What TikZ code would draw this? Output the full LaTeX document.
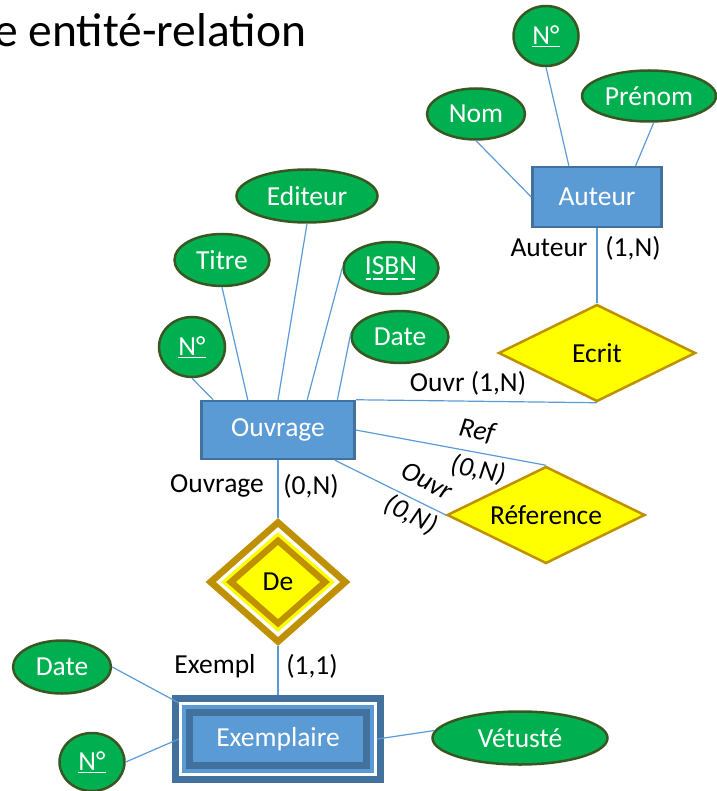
\documentclass[tikz,border=0pt]{standalone}
\usepackage{fontspec}
\setmainfont{Carlito}
\usetikzlibrary{shapes.geometric}
\definecolor{attrgreen}{HTML}{00B050}
\definecolor{attrline}{HTML}{385723}
\definecolor{entblue}{HTML}{5B9BD5}
\definecolor{entline}{HTML}{41719C}
\definecolor{relfill}{HTML}{FFFF00}
\definecolor{relline}{HTML}{BF9000}
\definecolor{linkc}{HTML}{5B9BD5}
\newcommand{\txtsize}{\fontsize{27.5}{30}\selectfont}
\newcommand{\dul}[1]{\setbox0\hbox{#1}\rlap{\hspace{0.12\wd0}\rule[-0.2em]{0.76\wd0}{0.05em}}#1}
\begin{document}
\begin{tikzpicture}[x=1pt,y=-1pt,
    every node/.style={font=\txtsize},
    attr/.style={ellipse,draw=attrline,line width=2.5pt,fill=attrgreen,text=white,inner sep=0pt},
    ent/.style={rectangle,draw=entline,line width=2.5pt,fill=entblue,text=white,inner sep=0pt},
    rel/.style={diamond,draw=relline,line width=2.5pt,fill=relfill,aspect=2,inner sep=0pt},
    layer/.style={diamond,inner sep=0pt},
    box/.style={rectangle,inner sep=0pt},
    card/.style={text=black,inner sep=0pt},
    cardit/.style={card,font=\txtsize\itshape}]
  \useasboundingbox (0,0) rectangle (716,791);
  \node[anchor=base west,font=\fontsize{47.5}{52}\selectfont,inner sep=0pt] (titre) at (-6,47) {e entité-relation};
  \node[attr,minimum width=65pt,minimum height=60pt] (aN) at (546,36) {\underline{N°}};
  \node[attr,minimum width=98pt,minimum height=51pt] (aNom) at (476,114) {Nom};
  \node[attr,minimum width=134pt,minimum height=51pt] (aPrenom) at (649,96) {Prénom};
  \node[ent,minimum width=129pt,minimum height=60pt] (auteur) at (597,197) {Auteur};
  \node[rel,minimum width=197pt,minimum height=97pt] (ecrit) at (597,353) {Ecrit};
  \node[ent,minimum width=153pt,minimum height=58pt] (ouvrage) at (278,430) {Ouvrage};
  \node[attr,minimum width=66pt,minimum height=60pt] (oN) at (192,347) {\underline{N°}};
  \node[attr,minimum width=95pt,minimum height=52pt] (oTitre) at (222,260) {Titre};
  \node[attr,minimum width=141pt,minimum height=53pt] (oEditeur) at (307,196) {Editeur};
  \node[attr,minimum width=95pt,minimum height=52pt] (oIsbn) at (391,268) {\dul{I}\dul{S}\dul{B}\dul{N}};
  \node[attr,minimum width=97pt,minimum height=52pt] (oDate) at (400,337) {Date};
  \node[rel,minimum width=198pt,minimum height=97pt] (reference) at (546,515) {Réference};
  \node[layer,fill=relline,minimum width=145pt,minimum height=128pt] (de) at (278,582) {};
  \node[layer,fill=white,minimum width=124pt,minimum height=110pt] (deW) at (de.center) {};
  \node[layer,fill=relfill,minimum width=114pt,minimum height=100pt] (deY) at (de.center) {};
  \node[layer,fill=relline,minimum width=104pt,minimum height=91pt] (deG) at (de.center) {};
  \node[layer,fill=relfill,minimum width=84pt,minimum height=74pt] (deIn) at (de.center) {De};
  \node[box,fill=entline,minimum width=212pt,minimum height=88pt] (exem) at (278,739) {};
  \node[box,fill=white,minimum width=198pt,minimum height=74pt] (exemW) at (exem.center) {};
  \node[box,fill=entblue,minimum width=192pt,minimum height=68pt] (exemB) at (exem.center) {};
  \node[box,fill=entline,minimum width=184pt,minimum height=60pt] (exemD) at (exem.center) {};
  \node[box,fill=entblue,text=white,minimum width=170pt,minimum height=46pt] (exemIn) at (exem.center) {Exemplaire};
  \node[attr,minimum width=98pt,minimum height=53pt] (eDate) at (62,667) {Date};
  \node[attr,minimum width=65pt,minimum height=58pt] (eN) at (92,762) {\underline{N°}};
  \node[attr,minimum width=175pt,minimum height=53pt] (eVetuste) at (520,738) {Vétusté};
  \node[card] (lAuteur) at (549,248) {Auteur};
  \node[card] (cAuteur) at (633,248) {(1,N)};
  \node[card] (lOuvrEcrit) at (468,383) {Ouvr (1,N)};
  \node[cardit,rotate=-11] (lRef) at (477,431) {Ref};
  \node[cardit,rotate=-11] (cRef) at (478,470) {(0,N)};
  \node[cardit,rotate=-27] (lOuvrRef) at (427,481) {Ouvr};
  \node[cardit,rotate=-27] (cOuvrRef) at (411,515) {(0,N)};
  \node[card] (lOuvrage) at (217,486) {Ouvrage};
  \node[card] (cOuvrage) at (311,486) {(0,N)};
  \node[card] (lExempl) at (215,666) {Exempl};
  \node[card] (cExempl) at (312,666) {(1,1)};
  \begin{scope}[draw=linkc,line width=1.2pt]
    \draw (aN.south) -- (auteur.132);
    \draw (aNom.south) -- (auteur.west);
    \draw (aPrenom.-80) -- (auteur.39);
    \draw (auteur.south) -- (ecrit.north);
    \draw (oN.south) -- (ouvrage.155);
    \draw (oTitre.south) -- (ouvrage.135);
    \draw (oEditeur.south) -- (ouvrage.north);
    \draw (oIsbn.west) -- (ouvrage.46);
    \draw (oDate.175) -- (ouvrage.27);
    \draw (ouvrage.north east) -- (ecrit.south);
    \draw (ouvrage.east) -- (reference.north);
    \draw (ouvrage.-28) -- (reference.west);
    \draw (ouvrage.south) -- (de.north);
    \draw (de.south) -- (exem.north);
    \draw (eDate.east) -- (exemW.160);
    \draw (eN.east) -- (exemW.west);
    \draw (exemW.east) -- (eVetuste.175);
  \end{scope}
\end{tikzpicture}
\end{document}
